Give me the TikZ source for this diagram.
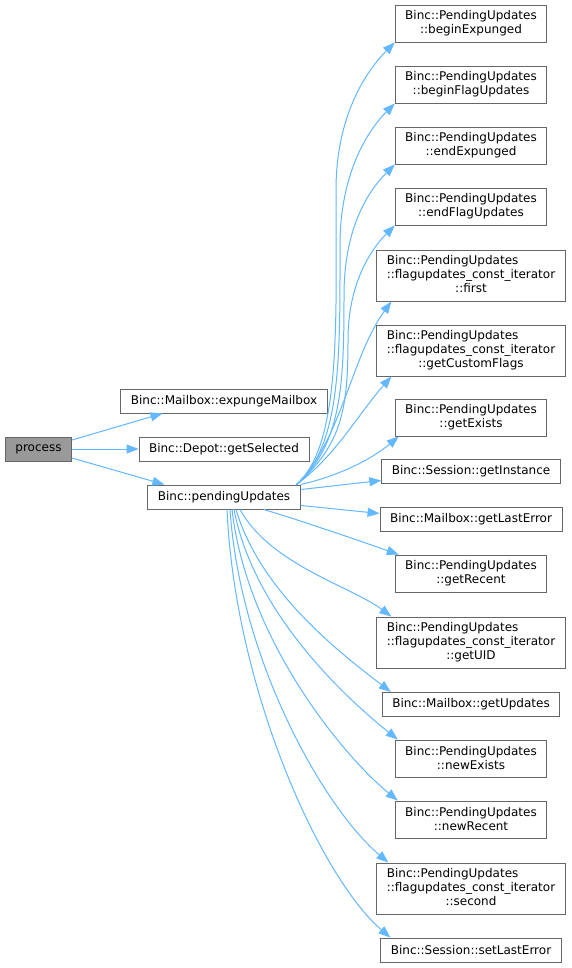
\documentclass[tikz,border=0pt]{standalone}
\usepackage{fontspec}
\setmainfont{DejaVu Sans}
\usetikzlibrary{arrows.meta}
\definecolor{edgeblue}{HTML}{63B8FF}
\definecolor{boxgray}{HTML}{666666}
\definecolor{procgray}{HTML}{999999}
\newcommand{\iterlabel}[1]{\begin{tabular}{@{}l@{}}Binc::PendingUpdates\\::flagupdates\_const\_iterator\\\multicolumn{1}{@{}c@{}}{::#1}\end{tabular}}
\begin{document}
\begin{tikzpicture}[x=1pt, y=1pt, >={Triangle[length=12pt, width=9pt]},
  fn/.style={draw=boxgray, line width=0.9pt, fill=white, align=center, inner xsep=10pt, inner ysep=5.5pt, minimum height=24pt, font=\fontsize{12}{14}\selectfont},
  fn2/.style={fn, minimum height=37pt},
  fn3/.style={fn, inner ysep=4.5pt, minimum height=51pt},
  edge/.style={->, edgeblue, line width=1pt}]
\fill[white] (0,0) rectangle (572,-968);
\useasboundingbox (0,0) rectangle (572,-968);
% caller and its direct callees
\node[fn, fill=procgray] (proc) at (38.5,-449) {process};
\node[fn] (expunge) at (224,-401) {Binc::Mailbox::expungeMailbox};
\node[fn] (getsel) at (224,-449) {Binc::Depot::getSelected};
\node[fn] (pu) at (224,-497) {Binc::pendingUpdates};
% callees of pendingUpdates
\node[fn2] (bexp) at (471,-23.5) {Binc::PendingUpdates\\::beginExpunged};
\node[fn2] (bfu) at (471,-84.5) {Binc::PendingUpdates\\::beginFlagUpdates};
\node[fn2] (eexp) at (471,-145.5) {Binc::PendingUpdates\\::endExpunged};
\node[fn2] (efu) at (471,-206.5) {Binc::PendingUpdates\\::endFlagUpdates};
\node[fn3] (first) at (471,-275.5) {\iterlabel{first}};
\node[fn3] (gcf) at (471,-350.5) {\iterlabel{getCustomFlags}};
\node[fn2] (gex) at (471,-417.5) {Binc::PendingUpdates\\::getExists};
\node[fn] (ginst) at (471,-471) {Binc::Session::getInstance};
\node[fn] (gle) at (471,-519.5) {Binc::Mailbox::getLastError};
\node[fn2] (grec) at (471,-573.5) {Binc::PendingUpdates\\::getRecent};
\node[fn3] (guid) at (471,-642.5) {\iterlabel{getUID}};
\node[fn] (gupd) at (471,-704.5) {Binc::Mailbox::getUpdates};
\node[fn2] (nex) at (471,-758.5) {Binc::PendingUpdates\\::newExists};
\node[fn2] (nrec) at (471,-819.5) {Binc::PendingUpdates\\::newRecent};
\node[fn3] (sec) at (471,-888.5) {\iterlabel{second}};
\node[fn] (sle) at (471,-950) {Binc::Session::setLastError};
% calls from process
\draw[edge] ([yshift=9pt]proc.east) -- ([xshift=42pt]expunge.south west);
\draw[edge] (proc) -- (getsel);
\draw[edge] ([yshift=-9pt]proc.east) -- ([xshift=17pt]pu.north west);
% calls going up
\draw[edge] ([xshift=-4pt]pu.north east) .. controls +(45,40) and +(0,-130) .. (336,-190) .. controls +(0,75) and +(-28,-28) .. (bexp.south west);
\draw[edge] ([xshift=-4pt]pu.north east) .. controls +(45,40) and +(0,-110) .. (340,-245) .. controls +(0,70) and +(-28,-28) .. (bfu.south west);
\draw[edge] ([xshift=-4pt]pu.north east) .. controls +(45,40) and +(0,-90) .. (344,-295) .. controls +(0,65) and +(-28,-28) .. (eexp.south west);
\draw[edge] ([xshift=-4pt]pu.north east) .. controls +(45,40) and +(0,-70) .. (348,-340) .. controls +(0,55) and +(-25,-25) .. (efu.south west);
\draw[edge] ([xshift=-4pt]pu.north east) .. controls +(45,45) and +(-40,-55) .. ([xshift=15pt]first.south west);
\draw[edge] ([xshift=-4pt]pu.north east) .. controls +(40,30) and +(-35,-40) .. ([xshift=15pt]gcf.south west);
\draw[edge] (pu.north east) .. controls +(35,8) and +(-30,-25) .. ([xshift=4pt]gex.south west);
\draw[edge] ([yshift=-5pt]pu.north east) -- ([yshift=3pt]ginst.south west);
\draw[edge] ([yshift=4pt]pu.south east) -- ([yshift=6pt]gle.west);
% calls going down
\draw[edge] ([xshift=-37pt]pu.south east) .. controls +(40,-12) and +(-40,14) .. ([xshift=4pt]grec.north west);
\draw[edge] ([xshift=16pt]pu.south) .. controls +(30,-55) and +(-40,30) .. ([xshift=15pt]guid.north west);
\draw[edge] ([xshift=12pt]pu.south) .. controls +(25,-85) and +(-45,35) .. ([xshift=9pt]gupd.north west);
\draw[edge] ([xshift=10pt]pu.south) .. controls +(20,-105) and +(-50,40) .. ([xshift=3pt]nex.north west);
\draw[edge] ([xshift=8pt]pu.south) .. controls +(15,-130) and +(-55,45) .. ([xshift=3pt]nrec.north west);
\draw[edge] ([xshift=6pt]pu.south) .. controls +(10,-150) and +(-65,55) .. ([xshift=12pt]sec.north west);
\draw[edge] ([xshift=3pt]pu.south) .. controls +(8,-180) and +(-70,60) .. ([xshift=10pt]sle.north west);
\end{tikzpicture}
\end{document}
